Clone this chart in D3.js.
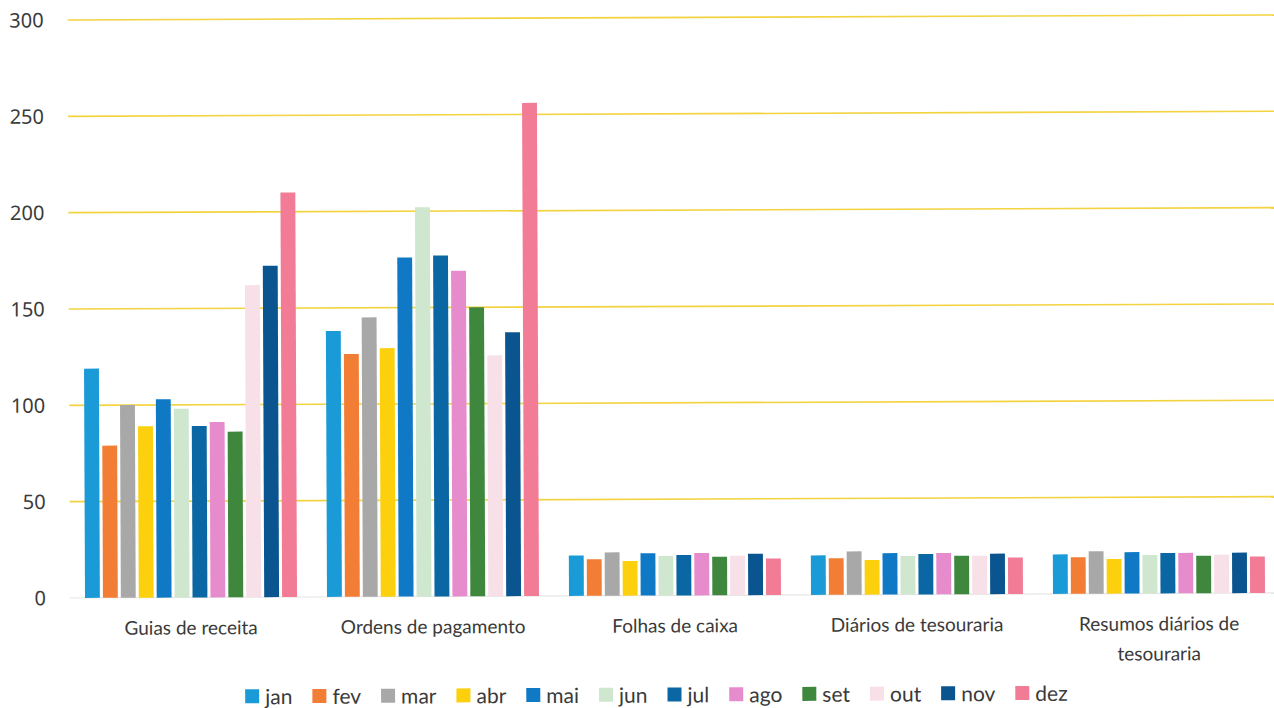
<!DOCTYPE html>
<html>
<head>
<meta charset="utf-8">
<script src="https://cdn.jsdelivr.net/npm/d3@7"></script>
<style>
  body { margin: 0; background: #fff; }
  svg { display: block; }
  .tick-label { font-family: "Noto Sans", sans-serif; font-size: 20px; fill: #3a3a3a; }
  .cat-label { font-family: Lato, sans-serif; font-size: 19px; fill: #3a3a3a; }
  .legend-label { font-family: Lato, sans-serif; font-size: 21px; fill: #3a3a3a; }
</style>
</head>
<body>
<svg id="chart" width="1274" height="708"></svg>
<script>
// categories and months
const categories = [
    ["Guias de receita"],
    ["Ordens de pagamento"],
    ["Folhas de caixa"],
    ["Diários de tesouraria"],
    ["Resumos diários de", "tesouraria"]
];
const months = ["jan", "fev", "mar", "abr", "mai", "jun", "jul", "ago", "set", "out", "nov", "dez"];
const monthColors = ["#1a9bd7", "#f27d35", "#a8a8a8", "#fcd00c", "#0f79c6", "#cfe6cf",
                     "#0a67a3", "#e68bcb", "#3f873d", "#f8e0e8", "#0a5590", "#f27b96"];

// values per category, one per month
const guiasReceita   = [119, 79, 100, 89, 103, 98, 89, 91, 86, 162, 172, 210];
const ordensPagamento = [138, 126, 145, 129, 176, 202, 177, 169, 150, 125, 137, 256];
const folhasCaixa    = [21, 19, 22.5, 18, 22, 20.5, 21, 22, 20, 20.5, 21.5, 19];
const diariosTes     = [20.5, 19, 22.5, 18, 21.5, 20, 21, 21.5, 20, 20, 21, 19];
const resumosTes     = [20.5, 19, 22, 18, 21.5, 20, 21, 21, 19.5, 20, 21, 19];
const seriesByCat = [guiasReceita, ordensPagamento, folhasCaixa, diariosTes, resumosTes];

const yTicks = [0, 50, 100, 150, 200, 250, 300];

const svg = d3.select("#chart");
// the scan is slightly tilted
const g = svg.append("g").attr("transform", "rotate(-0.24, 70, 598)");

const x0 = d3.scaleBand()
    .domain(d3.range(categories.length))
    .range([70, 1280])
    .paddingInner(0.124)
    .paddingOuter(0.062);

const x1 = d3.scaleBand()
    .domain(d3.range(months.length))
    .range([0, x0.bandwidth()])
    .paddingInner(0.17)
    .paddingOuter(0);

const y = d3.scaleLinear().domain([0, 300]).range([598, 20]);

// gridlines
g.selectAll(".grid")
    .data(yTicks)
    .enter().append("line")
    .attr("x1", 70).attr("x2", 1290)
    .attr("y1", d => y(d)).attr("y2", d => y(d))
    .attr("stroke", d => d === 0 ? "#e6e6e6" : "#f3d33f")
    .attr("stroke-width", d => d === 0 ? 1.2 : 1.6);

// y tick labels
g.selectAll(".tick-label")
    .data(yTicks)
    .enter().append("text")
    .attr("class", "tick-label")
    .attr("x", 46)
    .attr("y", d => y(d))
    .attr("dy", "0.36em")
    .attr("text-anchor", "end")
    .text(d => d);

// bars
const groups = g.selectAll(".cat")
    .data(seriesByCat)
    .enter().append("g")
    .attr("class", "cat")
    .attr("transform", (d, i) => "translate(" + x0(i) + ",0)");

groups.selectAll("rect")
    .data(d => d)
    .enter().append("rect")
    .attr("x", (d, i) => x1(i))
    .attr("width", x1.bandwidth())
    .attr("y", d => y(d))
    .attr("height", d => y(0) - y(d))
    .attr("fill", (d, i) => monthColors[i]);

// category labels
const catText = g.selectAll(".cat-label")
    .data(categories)
    .enter().append("text")
    .attr("class", "cat-label")
    .attr("text-anchor", "middle")
    .attr("x", (d, i) => x0(i) + x0.bandwidth() / 2)
    .attr("y", 635);

catText.selectAll("tspan")
    .data(d => d)
    .enter().append("tspan")
    .attr("x", function () { return d3.select(this.parentNode).attr("x"); })
    .attr("dy", (d, i) => i === 0 ? 0 : 30)
    .text(d => d);

// legend
const legend = g.append("g");
const items = legend.selectAll(".legend-item")
    .data(months)
    .enter().append("g")
    .attr("class", "legend-item");

items.append("rect")
    .attr("width", 14).attr("height", 14)
    .attr("y", 690)
    .attr("fill", (d, i) => monthColors[i]);

items.append("text")
    .attr("class", "legend-label")
    .attr("x", 20)
    .attr("y", 705)
    .text(d => d);

let offset = 0;
const positions = [];
items.each(function () {
    const w = d3.select(this).select("text").node().getComputedTextLength();
    positions.push(offset);
    offset += 20 + w + 20;
});
offset -= 20;
const start = 656 - offset / 2;
items.attr("transform", (d, i) => "translate(" + (start + positions[i]) + ",0)");
</script>
</body>
</html>
